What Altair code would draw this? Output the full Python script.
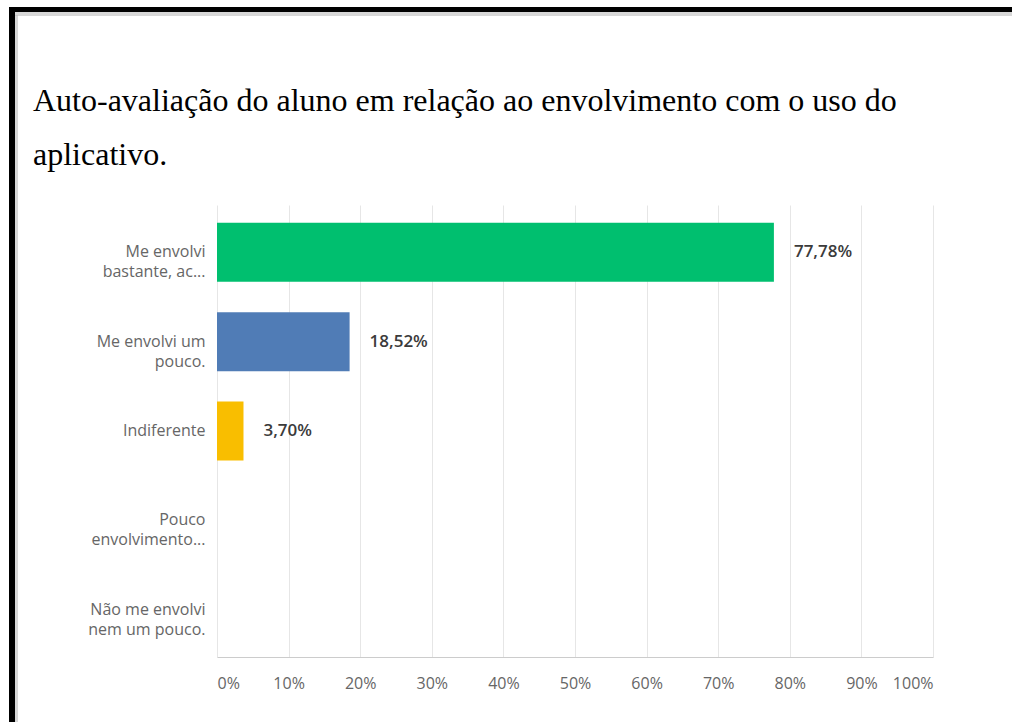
import altair as alt
import pandas as pd

categories = [
    "Me envolvi|bastante, ac...",
    "Me envolvi um|pouco.",
    "Indiferente",
    "Pouco|envolvimento...",
    "Não me envolvi|nem um pouco.",
]
values = [77.78, 18.52, 3.70, 0.0, 0.0]
colors = ["#00BF6F", "#507CB6", "#F9BE00", "#6BC8CD", "#D25F90"]
x_ticks = [0, 10, 20, 30, 40, 50, 60, 70, 80, 90, 100]
title_lines = [
    "Auto-avaliação do aluno em relação ao envolvimento com o uso do",
    "aplicativo.",
]

df = pd.DataFrame({
    "cat": categories,
    "value": values,
    "label": [(f"{v:.2f}".replace(".", ",") + "%") if v > 0 else "" for v in values],
})

y_enc = alt.Y(
    "cat:N",
    sort=categories,
    scale=alt.Scale(paddingInner=0.34, paddingOuter=0.2),
    axis=alt.Axis(
        title=None, domain=False, ticks=False, grid=False,
        labelExpr="split(datum.label, '|')",
        labelFont="Open Sans", labelFontSize=16, labelColor="#666666",
        labelPadding=12, labelLineHeight=20, labelAlign="right",
        labelBaseline="middle", labelLimit=300,
    ),
)
x_enc = alt.X(
    "value:Q",
    scale=alt.Scale(domain=[0, 100], nice=False),
    axis=alt.Axis(
        title=None, values=x_ticks, labelExpr="datum.value + '%'",
        grid=True, gridColor="#e6e6e6", domainColor="#cccccc",
        ticks=False, labelFlush=True, labelPadding=18,
        labelFont="Open Sans", labelFontSize=16, labelColor="#666666",
    ),
)

base = alt.Chart(df)

bars = base.mark_bar().encode(
    x=x_enc,
    y=y_enc,
    color=alt.Color("cat:N", scale=alt.Scale(domain=categories, range=colors), legend=None),
)

labels = base.transform_filter("datum.value > 0").mark_text(
    align="left", baseline="middle", dx=20,
    font="Open Sans", fontSize=17, fontWeight=600, color="#3b3b3b",
).encode(x="value:Q", y=alt.Y("cat:N", sort=categories), text="label:N")

one = alt.Chart(pd.DataFrame({"k": [0]}))

title_text = one.mark_text(
    align="left", baseline="alphabetic", font="Liberation Serif",
    fontSize=32, color="#000000", lineHeight=54,
).encode(x=alt.value(-184), y=alt.value(-94), text=alt.value(title_lines))

frame_left = one.mark_rule(color="#000000", strokeWidth=6).encode(
    x=alt.value(-205), y=alt.value(-198), y2=alt.value(517)
)
frame_left_shadow = one.mark_rule(color="#bdbdbd", strokeWidth=3, opacity=0.6).encode(
    x=alt.value(-200.5), y=alt.value(-190), y2=alt.value(517)
)
frame_top = one.mark_rule(color="#000000", strokeWidth=5).encode(
    x=alt.value(-208), x2=alt.value(795), y=alt.value(-195.5)
)
frame_top_shadow = one.mark_rule(color="#bdbdbd", strokeWidth=4, opacity=0.6).encode(
    x=alt.value(-202), x2=alt.value(795), y=alt.value(-191)
)

chart = alt.layer(
    bars, labels, title_text, frame_left_shadow, frame_top_shadow, frame_left, frame_top
).properties(
    width=716,
    height=452,
    autosize="none",
    padding={"left": 217, "top": 205, "right": 79, "bottom": 65},
    background="white",
).configure_view(stroke=None)

chart.save("out.html", embed_options={"renderer": "svg", "actions": False})
